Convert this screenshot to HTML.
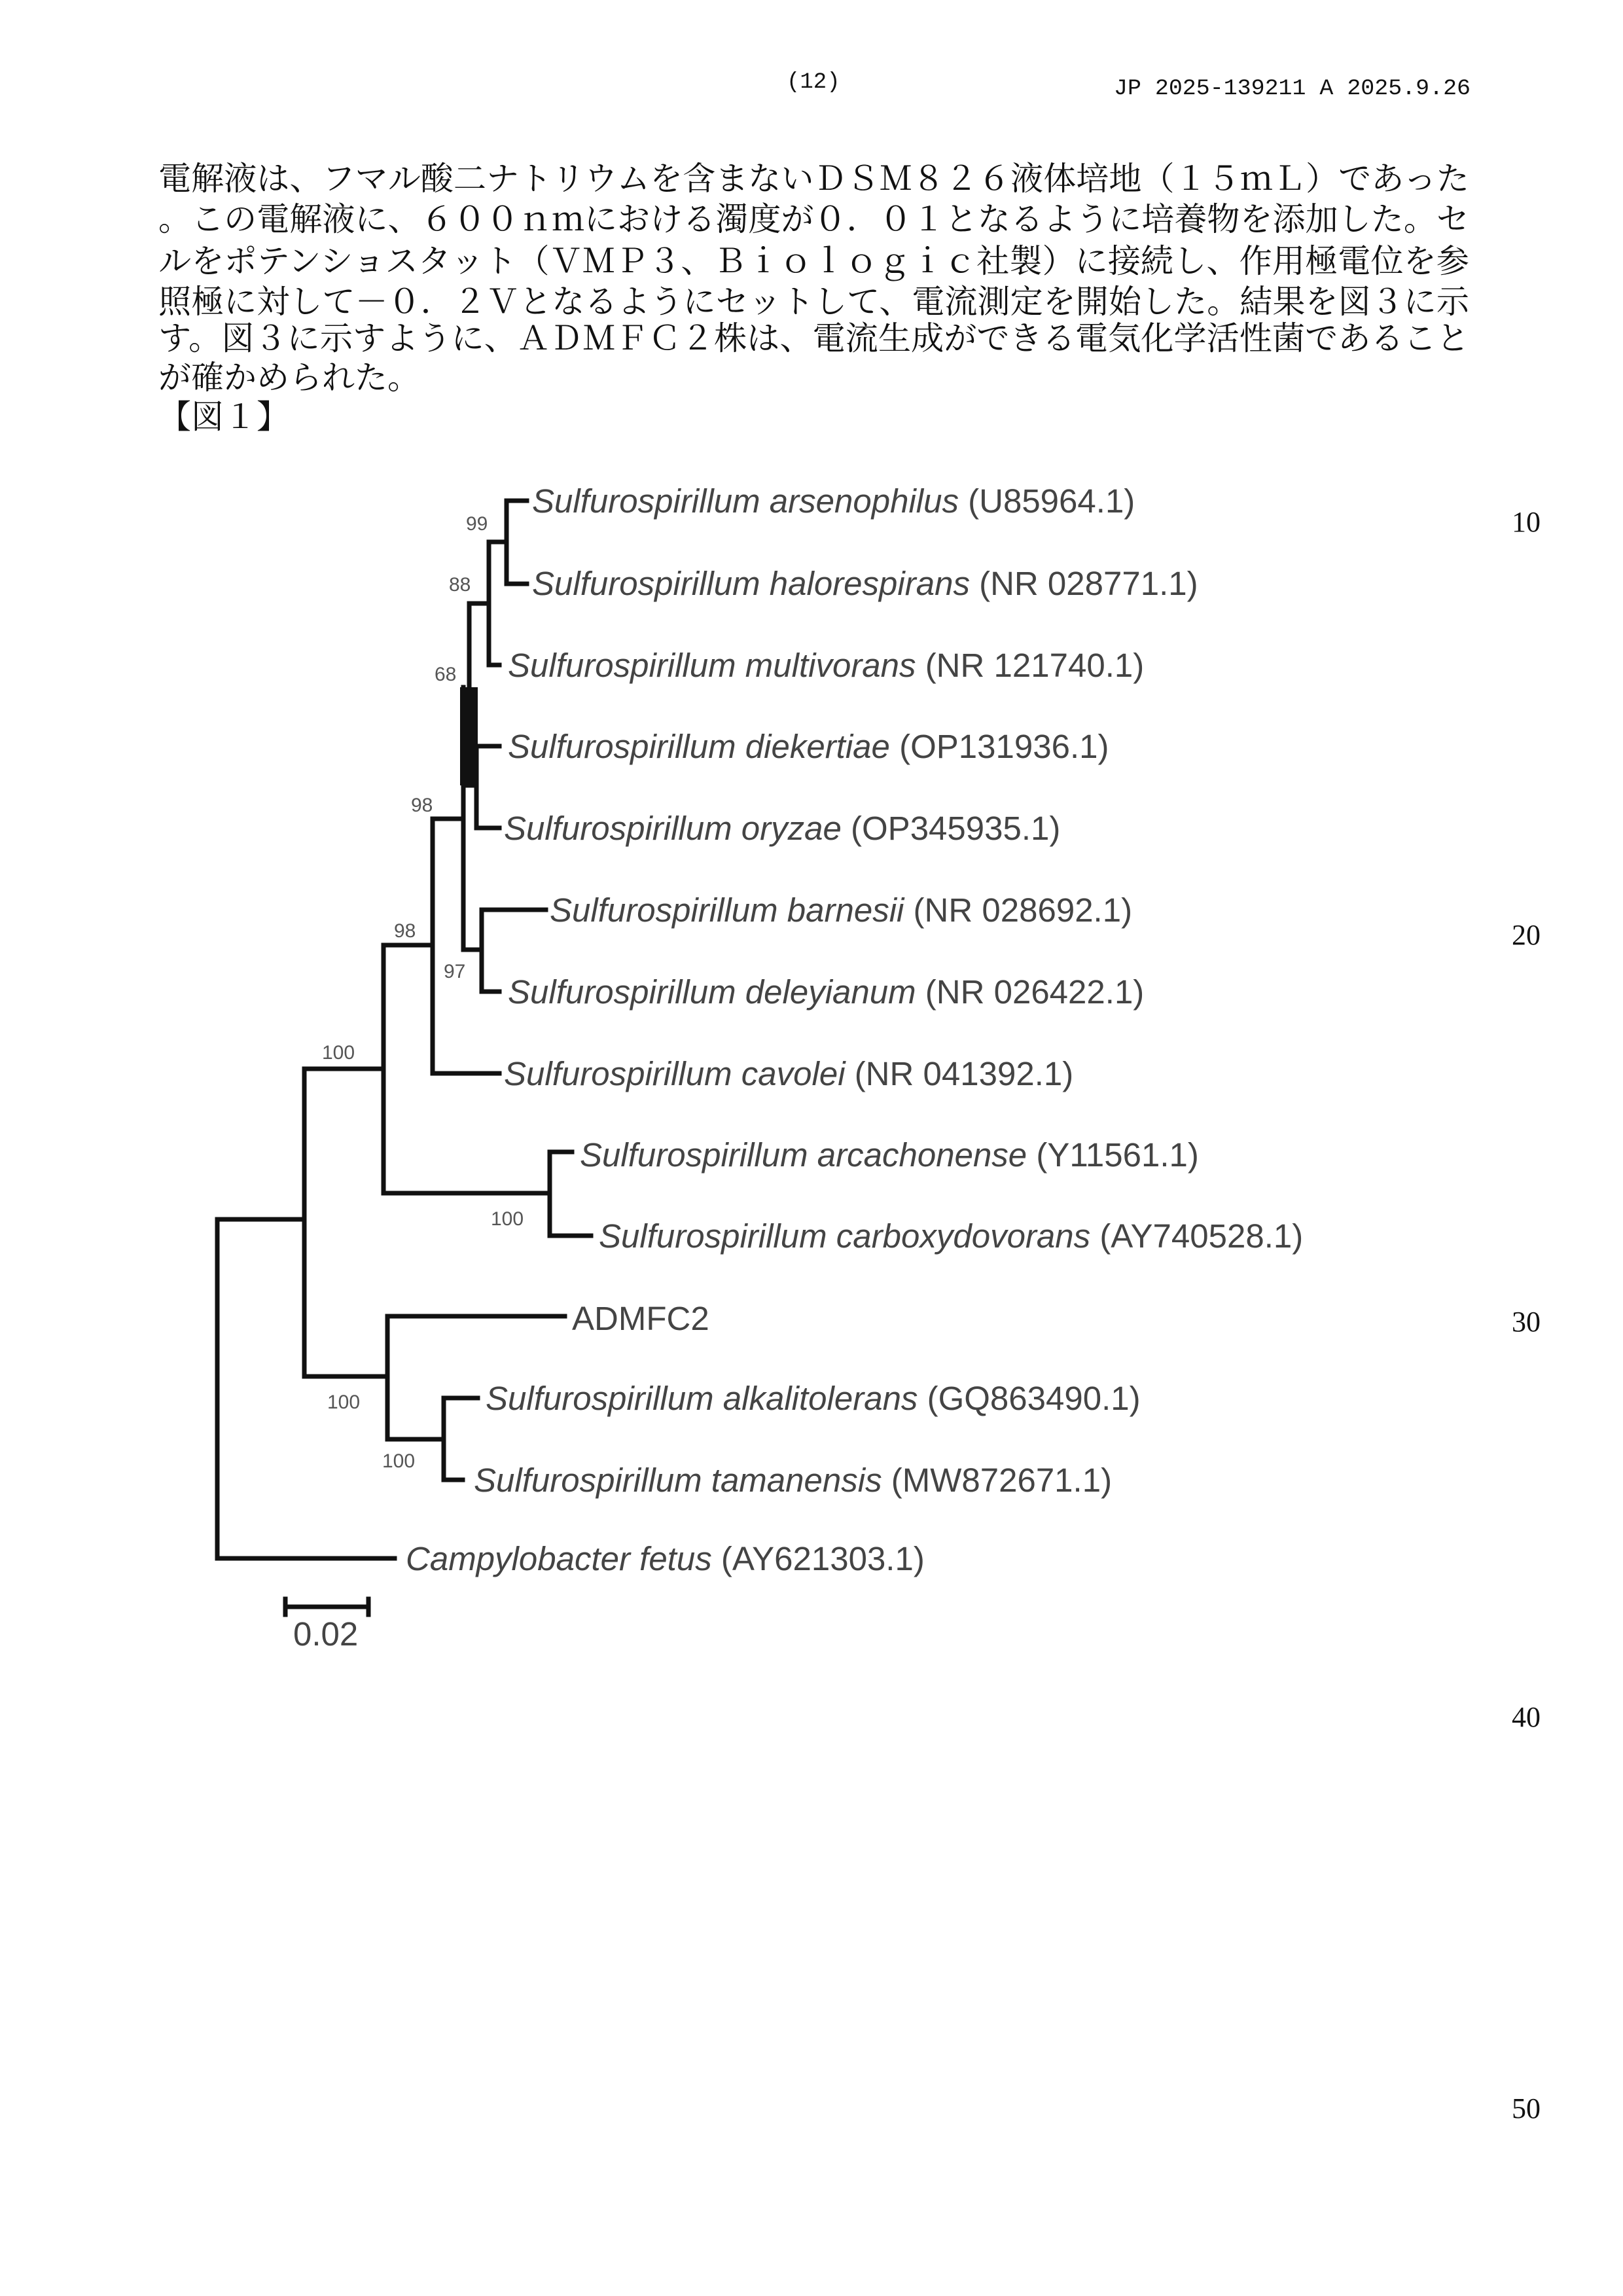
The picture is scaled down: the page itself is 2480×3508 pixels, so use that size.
<!DOCTYPE html>
<html><head><meta charset="utf-8"><style>
html,body{margin:0;padding:0;background:#fff}
svg{display:block}
</style></head><body>
<svg width="2480" height="3508" viewBox="0 0 2480 3508" xmlns="http://www.w3.org/2000/svg">
<rect width="2480" height="3508" fill="#fff"/>
<g font-family="'Liberation Mono','DejaVu Sans Mono',monospace" font-size="34" fill="#111">
<text x="1202" y="134">(12)</text>
<text x="1702" y="144" textLength="545" lengthAdjust="spacingAndGlyphs">JP  2025-139211  A  2025.9.26</text>
</g>
<g font-family="'Liberation Serif','Noto Serif CJK SC','Noto Sans CJK JP',serif" font-size="50" fill="#111">
<text x="242" y="290" textLength="2003" lengthAdjust="spacingAndGlyphs">電解液は、フマル酸二ナトリウムを含まないＤＳＭ８２６液体培地（１５ｍＬ）であった</text>
<text x="242" y="352" textLength="2003" lengthAdjust="spacingAndGlyphs">。この電解液に、６００ｎｍにおける濁度が０．０１となるように培養物を添加した。セ</text>
<text x="242" y="416" textLength="2003" lengthAdjust="spacingAndGlyphs">ルをポテンショスタット（ＶＭＰ３、Ｂｉｏｌｏｇｉｃ社製）に接続し、作用極電位を参</text>
<text x="242" y="478" textLength="2003" lengthAdjust="spacingAndGlyphs">照極に対して－０．２Ｖとなるようにセットして、電流測定を開始した。結果を図３に示</text>
<text x="242" y="534" textLength="2003" lengthAdjust="spacingAndGlyphs">す。図３に示すように、ＡＤＭＦＣ２株は、電流生成ができる電気化学活性菌であること</text>
<text x="242" y="594">が確かめられた。</text>
<text x="242" y="654">【図１】</text>
</g>
<g font-family="'Liberation Serif',serif" font-size="44" fill="#111">
<text x="2310" y="812">10</text>
<text x="2310" y="1443">20</text>
<text x="2310" y="2034">30</text>
<text x="2310" y="2638">40</text>
<text x="2310" y="3236">50</text>
</g>
<g stroke="#111" stroke-width="7" fill="none" stroke-linecap="square">
<path d="M805 765 H774 V892 H805"/>
<path d="M774 828 H747 V1016 H763"/>
<path d="M747 922 H717 V1200"/>
<rect x="703" y="1050" width="27" height="150" fill="#111" stroke="none"/>
<path d="M763 1140 H728 V1265 H763"/>
<path d="M728 1200 H708"/>
<path d="M708 1050 V1451 H736"/>
<path d="M834 1390 H736 V1515 H763"/>
<path d="M708 1251 H661 V1640 H763"/>
<path d="M661 1444 H586 V1823 H840"/>
<path d="M874 1760 H840 V1888 H903"/>
<path d="M586 1633 H465 V2103 H592"/>
<path d="M863 2011 H592 V2199 H678"/>
<path d="M730 2136 H678 V2261 H707"/>
<path d="M465 1863 H332 V2381 H603"/>
<path d="M436 2455 H563 M436 2443 V2467 M563 2443 V2467"/>
</g>
<g font-family="'Liberation Sans','DejaVu Sans',sans-serif" font-size="51" fill="#444">
<text x="813" y="783"><tspan font-style="italic">Sulfurospirillum arsenophilus</tspan> (U85964.1)</text>
<text x="813" y="909"><tspan font-style="italic">Sulfurospirillum halorespirans</tspan> (NR 028771.1)</text>
<text x="776" y="1034"><tspan font-style="italic">Sulfurospirillum multivorans</tspan> (NR 121740.1)</text>
<text x="776" y="1158"><tspan font-style="italic">Sulfurospirillum diekertiae</tspan> (OP131936.1)</text>
<text x="770" y="1283"><tspan font-style="italic">Sulfurospirillum oryzae</tspan> (OP345935.1)</text>
<text x="840" y="1408"><tspan font-style="italic">Sulfurospirillum barnesii</tspan> (NR 028692.1)</text>
<text x="776" y="1533"><tspan font-style="italic">Sulfurospirillum deleyianum</tspan> (NR 026422.1)</text>
<text x="770" y="1658"><tspan font-style="italic">Sulfurospirillum cavolei</tspan> (NR 041392.1)</text>
<text x="886" y="1782"><tspan font-style="italic">Sulfurospirillum arcachonense</tspan> (Y11561.1)</text>
<text x="915" y="1906"><tspan font-style="italic">Sulfurospirillum carboxydovorans</tspan> (AY740528.1)</text>
<text x="874" y="2032">ADMFC2</text>
<text x="742" y="2154"><tspan font-style="italic">Sulfurospirillum alkalitolerans</tspan> (GQ863490.1)</text>
<text x="724" y="2279"><tspan font-style="italic">Sulfurospirillum tamanensis</tspan> (MW872671.1)</text>
<text x="620" y="2399"><tspan font-style="italic">Campylobacter fetus</tspan> (AY621303.1)</text>
<text x="448" y="2514">0.02</text>
</g>
<g font-family="'Liberation Sans','DejaVu Sans',sans-serif" font-size="30" fill="#555">
<text x="712" y="810">99</text>
<text x="686" y="903">88</text>
<text x="664" y="1040">68</text>
<text x="628" y="1240">98</text>
<text x="602" y="1432">98</text>
<text x="678" y="1494">97</text>
<text x="492" y="1618">100</text>
<text x="750" y="1872">100</text>
<text x="500" y="2152">100</text>
<text x="584" y="2242">100</text>
</g>
</svg>
</body></html>
